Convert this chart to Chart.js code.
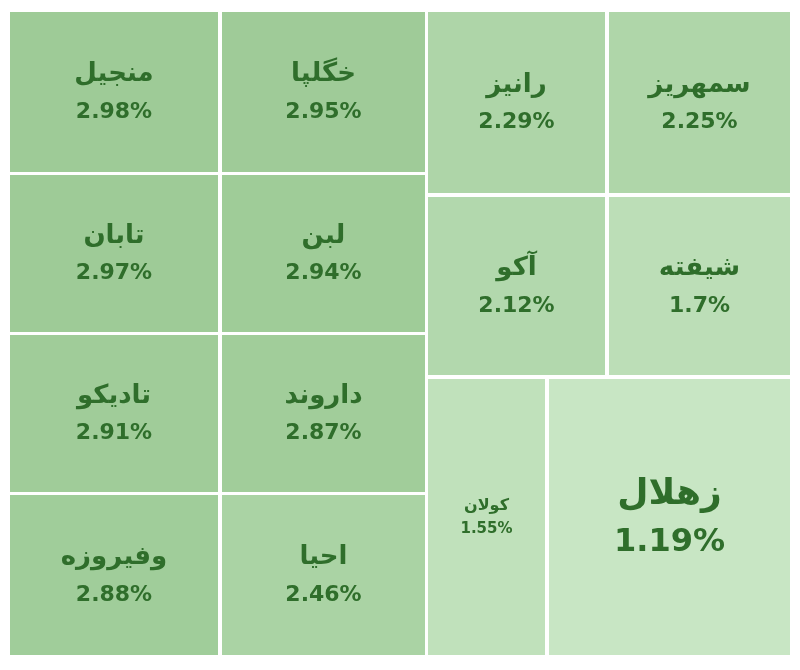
<!DOCTYPE html>
<html>
<head>
<meta charset="utf-8">
<script src="https://cdn.jsdelivr.net/npm/chart.js@4/dist/chart.umd.min.js"></script>
<style>
  html, body { margin: 0; padding: 0; background: #ffffff; }
  #wrap { width: 800px; height: 670px; }
</style>
</head>
<body>
<div id="wrap"><canvas id="treemap" width="800" height="670"></canvas></div>
<script>
// Tickers and their daily change (%)
const names = ['منجیل', 'تابان', 'تادیکو', 'وفیروزه', 'خگلپا', 'لبن', 'داروند', 'احیا',
               'رانیز', 'آکو', 'سمهریز', 'شیفته', 'کولان', 'زهلال'];
const values = [2.98, 2.97, 2.91, 2.88, 2.95, 2.94, 2.87, 2.46,
                2.29, 2.12, 2.25, 1.7, 1.55, 1.19];

// Layout of the tiles (in axis units, 0..800 x 0..670)
const leftCols = [[10, 218], [222, 425]];
const leftRows = [[12, 172], [175, 332], [335, 492], [495, 655]];
const rightCols = [[428, 605], [609, 790]];
const rightRows = [[12, 193], [197, 375]];
const bottomCols = [[428, 545], [549, 790]];
const bottomRow = [379, 655];

function buildTiles() {
    const tiles = [];
    let i = 0;
    leftCols.forEach(c => leftRows.forEach(r => tiles.push({ i: i++, x: c, y: r })));
    rightCols.forEach(c => rightRows.forEach(r => tiles.push({ i: i++, x: c, y: r })));
    bottomCols.forEach(c => tiles.push({ i: i++, x: c, y: bottomRow }));
    return tiles;
}

function mix(a, b, t) {
    return a.map((v, k) => Math.round(v + (b[k] - v) * t));
}

function tileColor(v) {
    const lo = [200, 230, 196], hi = [158, 203, 151];
    const t = Math.max(0, Math.min(1, (v - 1.19) / (2.98 - 1.19)));
    const c = mix(lo, hi, t);
    return `rgb(${c[0]},${c[1]},${c[2]})`;
}

const tilePlugin = {
    id: 'tiles',
    afterDatasetsDraw(chart) {
        const ctx = chart.ctx;
        const xs = chart.scales.x, ys = chart.scales.y;
        buildTiles().forEach(t => {
            const x0 = xs.getPixelForValue(t.x[0]), x1 = xs.getPixelForValue(t.x[1]);
            const y0 = ys.getPixelForValue(t.y[0]), y1 = ys.getPixelForValue(t.y[1]);
            const left = Math.min(x0, x1), top = Math.min(y0, y1);
            const w = Math.abs(x1 - x0), h = Math.abs(y1 - y0);
            ctx.save();
            ctx.fillStyle = tileColor(values[t.i]);
            ctx.fillRect(left, top, w, h);
            ctx.fillStyle = '#2f6e2b';
            ctx.textAlign = 'center';
            ctx.textBaseline = 'middle';
            let nameSize = 26, valSize = 22, gap = 22;
            if (w < 150) { nameSize = 16; valSize = 15; gap = 14; }
            if (w > 220 && h > 220) { nameSize = 36; valSize = 32; gap = 28; }
            const cx = left + w / 2, cy = top + h / 2;
            ctx.font = `bold ${nameSize}px "DejaVu Sans", "Noto Sans", sans-serif`;
            ctx.fillText(names[t.i], cx, cy - gap * 0.8);
            ctx.font = `bold ${valSize}px "DejaVu Sans", "Noto Sans", sans-serif`;
            ctx.fillText(values[t.i] + '%', cx, cy + gap * 0.9);
            ctx.restore();
        });
    }
};

new Chart(document.getElementById('treemap').getContext('2d'), {
    type: 'scatter',
    data: { datasets: [{ data: [] }] },
    options: {
        responsive: false,
        animation: false,
        layout: { padding: 0 },
        plugins: { legend: { display: false }, tooltip: { enabled: false } },
        scales: {
            x: { type: 'linear', min: 0, max: 800, display: false },
            y: { type: 'linear', min: 0, max: 670, reverse: true, display: false }
        }
    },
    plugins: [tilePlugin]
});
</script>
</body>
</html>
